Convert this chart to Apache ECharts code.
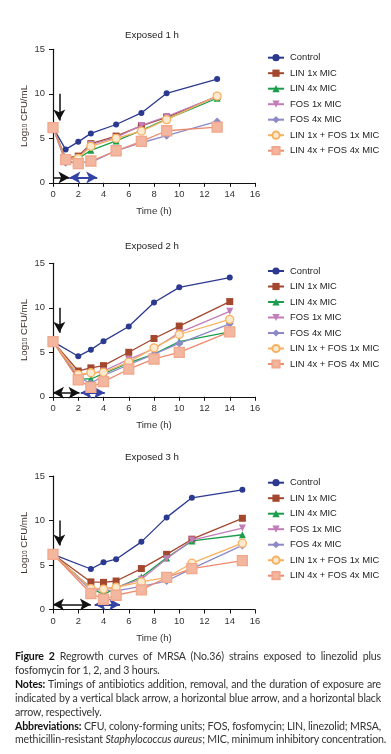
<!DOCTYPE html>
<html><head><meta charset="utf-8">
<script src="https://cdn.jsdelivr.net/npm/echarts@6/dist/echarts.min.js"></script>
<style>
html,body{margin:0;padding:0;background:#fff;}
#chart{position:absolute;left:0;top:0;width:391px;height:754px;}
#cap{position:absolute;left:15px;top:650px;width:366px;font-family:Lato,"Open Sans",sans-serif;font-size:10.6px;letter-spacing:-0.15px;line-height:13.9px;color:#333;}
#cap div{white-space:nowrap;}
#cap .j{text-align:justify;text-align-last:justify;}
#cap b{color:#111;}
</style></head>
<body>
<div id="chart"></div>
<div id="cap">
<div class="j"><b>Figure 2</b> Regrowth curves of MRSA (No.36) strains exposed to linezolid plus</div>
<div>fosfomycin for 1, 2, and 3 hours.</div>
<div class="j"><b>Notes:</b> Timings of antibiotics addition, removal, and the duration of exposure are</div>
<div class="j">indicated by a vertical black arrow, a horizontal blue arrow, and a horizontal black</div>
<div>arrow, respectively.</div>
<div class="j"><b>Abbreviations:</b> CFU, colony-forming units; FOS, fosfomycin; LIN, linezolid; MRSA,</div>
<div class="j">methicillin-resistant <i>Staphylococcus aureus</i>; MIC, minimum inhibitory concentration.</div>
</div>
<script>
const seriesNames = ['Control','LIN 1x MIC','LIN 4x MIC','FOS 1x MIC','FOS 4x MIC','LIN 1x + FOS 1x MIC','LIN 4x + FOS 4x MIC'];
const panelTitles = ['Exposed 1 h','Exposed 2 h','Exposed 3 h'];
const xTicks = [0,2,4,6,8,10,12,14,16];
const yTicks = [0,5,10,15];

// Panel 1 (exposed 1 h)
const time1 = [0,1,2,3,5,7,9,13];
const control1 = [6.2,3.75,4.6,5.55,6.55,7.85,10.05,11.65];
const lin1x1 = [6.2,2.8,3.0,4.4,5.25,6.4,7.35,9.7];
const lin4x1 = [6.2,2.7,2.7,3.65,4.7,5.9,7.15,9.5];
const fos1x1 = [6.2,2.5,2.8,4.3,5.1,6.45,7.45,9.7];
const fos4x1 = [6.2,2.25,2.3,2.3,3.6,4.5,5.3,6.9];
const combo1x1 = [6.2,2.6,2.75,4.1,5.0,5.8,7.1,9.75];
const combo4x1 = [6.2,2.6,2.15,2.45,3.6,4.65,5.85,6.25];

// Panel 2 (exposed 2 h)
const time2 = [0,2,3,4,6,8,10,14];
const control2 = [6.2,4.55,5.3,6.25,7.9,10.6,12.3,13.4];
const lin1x2 = [6.2,2.9,3.25,3.5,5.0,6.55,7.95,10.7];
const lin4x2 = [6.2,2.05,2.0,2.6,3.8,4.8,6.2,7.3];
const fos1x2 = [6.2,2.5,2.6,2.9,4.2,5.4,7.2,9.6];
const fos4x2 = [6.2,2.2,1.5,2.4,3.6,4.8,6.0,8.2];
const combo1x2 = [6.2,2.5,2.7,2.75,3.9,5.5,7.0,8.7];
const combo4x2 = [6.2,1.9,1.05,1.7,3.1,4.25,5.0,7.3];

// Panel 3 (exposed 3 h)
const time3 = [0,3,4,5,7,9,11,15];
const control3 = [6.2,4.55,5.3,5.65,7.6,10.35,12.55,13.45];
const lin1x3 = [6.2,3.1,3.05,3.2,4.6,6.2,7.9,10.25];
const lin4x3 = [6.2,2.4,1.7,2.4,3.65,5.8,7.7,8.4];
const fos1x3 = [6.2,2.4,2.3,2.5,3.4,5.7,7.8,9.15];
const fos4x3 = [6.2,2.2,2.2,2.1,2.6,3.2,4.6,7.2];
const combo1x3 = [6.2,2.35,2.3,2.5,3.1,3.6,5.2,7.45];
const combo4x3 = [6.2,1.8,1.15,1.6,2.2,3.6,4.6,5.5];

// Arrow annotations [x, y] in data units
const additionArrows = [[[0.5,10],[0.5,7]],[[0.5,10],[0.5,7.2]],[[0.5,10],[0.5,7.2]]];
const exposureArrows = [[[0,0.6],[1.3,0.6]],[[0,0.45],[2.1,0.45]],[[0,0.55],[3.0,0.55]]];
const exposureDouble = [false,true,true];
const removalArrows = [[[1.3,0.6],[3.5,0.6]],[[2.2,0.45],[4.1,0.45]],[[3.3,0.55],[5.3,0.55]]];

const panels = [
  {t: time1, v: [control1,lin1x1,lin4x1,fos1x1,fos4x1,combo1x1,combo4x1]},
  {t: time2, v: [control2,lin1x2,lin4x2,fos1x2,fos4x2,combo1x2,combo4x2]},
  {t: time3, v: [control3,lin1x3,lin4x3,fos1x3,fos4x3,combo1x3,combo4x3]}
];

const styles = [
  {line:'#2B3990', symbol:'circle', size:6, fill:'#2B3990'},
  {line:'#A3472F', symbol:'rect', size:7, fill:'#A3472F'},
  {line:'#1B9E4B', symbol:'triangle', size:7, fill:'#1B9E4B'},
  {line:'#C27DB8', symbol:'triangle', size:7, fill:'#C27DB8', rotate:180},
  {line:'#8C89C8', symbol:'diamond', size:8, fill:'#8C89C8'},
  {line:'#F7B15E', symbol:'circle', size:8, fill:'#FCE9CF', border:'#F7B15E'},
  {line:'#EF8A6C', symbol:'rect', size:10, fill:'#F3B69F', border:'#F1A88C'}
];

const FONT = '"Liberation Sans", Arial, sans-serif';
const FS = 9.4;
const gridTops = [49.3, 263.3, 476];
const gridH = 133.5;
const titleTops = [30, 241, 452];
const legendTops = [52.2, 265.5, 477.2];

const option = {
  animation:false,
  backgroundColor:'#fff',
  title: panelTitles.map((t,i)=>({text:t,left:152,top:titleTops[i],textAlign:'center',padding:0,
    textStyle:{fontFamily:FONT,fontSize:FS+0.3,fontWeight:'normal',color:'#222'}})),
  grid: gridTops.map(top=>({left:53,top:top,width:202,height:gridH,containLabel:false})),
  xAxis: gridTops.map((_,i)=>({gridIndex:i,type:'value',min:xTicks[0],max:xTicks[xTicks.length-1],interval:2,
    name:'Time (h)',nameLocation:'middle',nameGap:24,
    nameTextStyle:{fontFamily:FONT,fontSize:FS+0.3,color:'#333'},
    axisLine:{lineStyle:{color:'#111',width:1.2}},
    axisTick:{show:true,length:4,lineStyle:{color:'#111'}},
    axisLabel:{fontFamily:FONT,fontSize:FS,color:'#333',margin:7},
    splitLine:{show:false}})),
  yAxis: gridTops.map((_,i)=>({gridIndex:i,type:'value',min:yTicks[0],max:yTicks[yTicks.length-1],interval:5,
    name:'Log{s|10} CFU/mL',nameLocation:'middle',nameGap:24,nameRotate:90,nameMoveOverlap:false,
    nameTextStyle:{fontFamily:FONT,fontSize:FS+0.3,color:'#3d302b',
      rich:{s:{fontSize:6.5,verticalAlign:'bottom',padding:[3,0,0,0],fontFamily:FONT,color:'#3d302b'}}},
    axisLine:{show:true,lineStyle:{color:'#111',width:1.2}},
    axisTick:{show:true,length:4,lineStyle:{color:'#111'}},
    axisLabel:{fontFamily:FONT,fontSize:FS,color:'#333',margin:8},
    splitLine:{show:false}})),
  legend: legendTops.map(top=>({orient:'vertical',left:267,top:top,itemWidth:16,itemHeight:9,itemGap:4.5,
    data:seriesNames,selectedMode:false,padding:0,
    textStyle:{fontFamily:FONT,fontSize:FS,lineHeight:11,color:'#222',padding:[0,0,0,1]}})),
  series: []
};

panels.forEach((p,pi)=>{
  p.v.forEach((vals,si)=>{
    const st = styles[si];
    option.series.push({
      name:seriesNames[si],type:'line',xAxisIndex:pi,yAxisIndex:pi,
      data:p.t.map((t,k)=>[t,vals[k]]),
      symbol:st.symbol,symbolSize:st.size,symbolRotate:st.rotate||0,
      lineStyle:{color:st.line,width:1.3},
      itemStyle:{color:st.fill,borderColor:st.border||st.fill,borderWidth:st.border?1.3:0},
      z:2+si
    });
  });
  const ml = [
    {coords:additionArrows[pi],symbol:['none','arrow'],color:'#111',w:1.5},
    {coords:exposureArrows[pi],symbol:[exposureDouble[pi]?'arrow':'none','arrow'],color:'#111',w:1.5},
    {coords:removalArrows[pi],symbol:['arrow','arrow'],color:'#3443A6',w:2}
  ];
  ml.forEach(m=>{
    option.series.push({
      type:'line',xAxisIndex:pi,yAxisIndex:pi,data:[],silent:true,z:20,
      markLine:{silent:true,symbol:m.symbol,symbolSize:[9,11],animation:false,
        label:{show:false},emphasis:{disabled:true},
        lineStyle:{color:m.color,width:m.w,type:'solid'},
        data:[[{coord:m.coords[0]},{coord:m.coords[1]}]]}
    });
  });
});

const chart = echarts.init(document.getElementById('chart'),null,{renderer:'canvas'});
chart.setOption(option);
</script>
</body></html>
